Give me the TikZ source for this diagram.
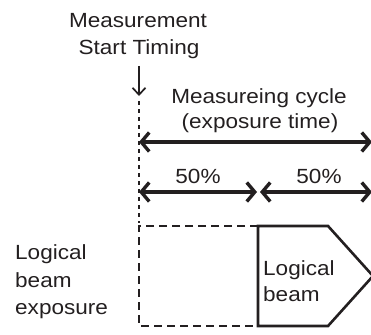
\documentclass[tikz,border=0pt]{standalone}
\usepackage{fontspec}
\setmainfont[FakeStretch=1.1]{Liberation Sans}
\usetikzlibrary{arrows.meta}
\definecolor{ink}{HTML}{231F20}
\tikzset{
  barbtip/.tip={Straight Barb[length=8pt,width=19pt,line width=3.4pt]},
  marktip/.tip={Straight Barb[length=7pt,width=13pt,line width=1.7pt]}}
\begin{document}
\begin{tikzpicture}[x=1pt,y=-1pt,
  lbl/.style={inner sep=0pt,anchor=base,text=ink,font=\fontsize{20.5}{27}\selectfont},
  lblw/.style={lbl,anchor=base west},
  span/.style={draw=ink,line width=3.6pt,barbtip-barbtip},
  marker/.style={draw=ink,line width=1.7pt,-marktip},
  guide/.style={draw=ink,line width=1.2pt,dash pattern=on 4pt off 4pt},
  slot/.style={draw=ink,line width=2.8pt,dash pattern=on 8pt off 5pt},
  beam/.style={draw=ink,line width=2.6pt,line join=miter}]
\useasboundingbox (0,0) rectangle (371,334);

% start-timing marker and guide line
\node[lbl] (st1) at (138,28) {Measurement};
\node[lbl] (st2) at (139,55) {Start Timing};
\coordinate (m0) at (139,66);
\coordinate (m1) at (139,96);
\coordinate (g0) at (139,101);
\coordinate (g1) at (139,223);
\draw[marker] (m0) -- (m1);
\draw[guide] (g0) -- (g1);

% measuring cycle
\node[lbl] (mc1) at (259,103) {Measureing cycle};
\node[lbl] (mc2) at (260,128) {(exposure time)};
\coordinate (c0) at (139,142);
\coordinate (c1) at (372,142);
\draw[span] (c0) -- (c1);

% two halves
\node[lbl] (h1) at (198,183) {50\%};
\node[lbl] (h2) at (319,183) {50\%};
\coordinate (a0) at (139,192);
\coordinate (a1) at (257,192);
\coordinate (b0) at (260,192);
\coordinate (b1) at (372,192);
\draw[span] (a0) -- (a1);
\draw[span] (b0) -- (b1);

% exposure slot and logical beam
\coordinate (r0) at (258,226);
\coordinate (r1) at (139,226);
\coordinate (r2) at (139,326);
\coordinate (r3) at (258,326);
\draw[slot] (r0) -- (r1) -- (r2) -- (r3);
\coordinate (p1) at (328,226);
\coordinate (p2) at (373,276);
\coordinate (p3) at (328,326);
\draw[beam] (r0) -- (p1) -- (p2) -- (p3) -- (r3) -- cycle;
\node[lblw] (lb1) at (263,275) {Logical};
\node[lblw] (lb2) at (263,301) {beam};

% row label
\node[lblw] (e1) at (15,259) {Logical};
\node[lblw] (e2) at (15,287) {beam};
\node[lblw] (e3) at (15,314) {exposure};
\end{tikzpicture}
\end{document}
